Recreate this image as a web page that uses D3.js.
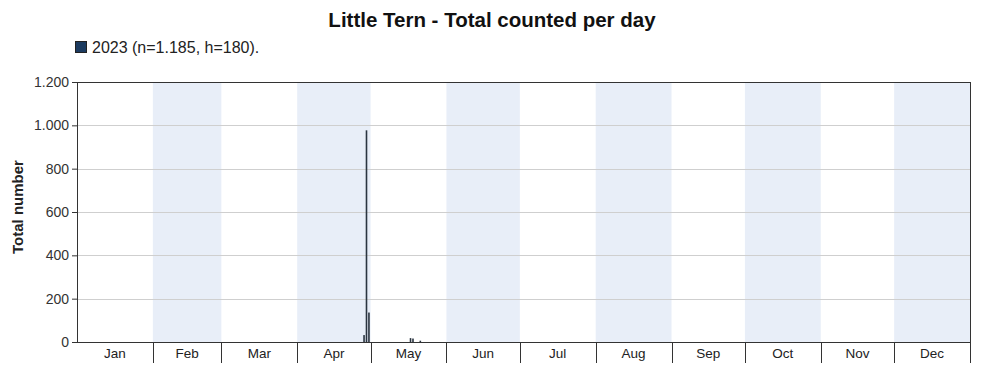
<!DOCTYPE html>
<html>
<head>
<meta charset="utf-8">
<script src="https://cdn.jsdelivr.net/npm/d3@7"></script>
<style>
  body { margin: 0; background: #fff; font-family: "Liberation Sans", Arial, sans-serif; }
  svg text { font-family: "Liberation Sans", Arial, sans-serif; }
</style>
</head>
<body>
<svg id="chart"></svg>
<script>
// Data
const months = ["Jan", "Feb", "Mar", "Apr", "May", "Jun", "Jul", "Aug", "Sep", "Oct", "Nov", "Dec"];
const days = ["2023-04-28", "2023-04-29", "2023-04-30", "2023-05-17", "2023-05-18", "2023-05-21"];
const counts = [32, 977, 136, 18, 16, 6];
const yTicks = [0, 200, 400, 600, 800, 1000, 1200];
const legendLabel = "2023 (n=1.185, h=180).";

const W = 985, H = 373;
const margin = {top: 82, right: 15, bottom: 31, left: 77},
      width = W - margin.left - margin.right,
      height = H - margin.top - margin.bottom;

const svg = d3.select("#chart").attr("width", W).attr("height", H);

const parse = d3.timeParse("%Y-%m-%d");
const data = days.map(function(d, i) { return {date: parse(d), count: counts[i]}; });

// Scales
const xScale = d3.scaleTime()
    .domain([new Date(2023, 0, 1), new Date(2024, 0, 1)])
    .range([0, width]);
const yScale = d3.scaleLinear()
    .domain([0, 1200])
    .range([height, 0]);

const fmt = d3.formatLocale({decimal: ",", thousands: ".", grouping: [3], currency: ["", ""]}).format(",d");

// Title
svg.append("text")
    .attr("x", 492).attr("y", 27)
    .attr("text-anchor", "middle")
    .style("font-size", "20.5px").style("font-weight", "bold").style("fill", "#111")
    .text("Little Tern - Total counted per day");

// Legend
svg.append("rect")
    .attr("x", 75.5).attr("y", 41.5).attr("width", 11).attr("height", 11)
    .attr("fill", "#1c3b60").attr("stroke", "#222");
svg.append("text")
    .attr("x", 92).attr("y", 53)
    .style("font-size", "16px").style("fill", "#222")
    .text(legendLabel);

const g = svg.append("g")
    .attr("transform", "translate(" + margin.left + "," + margin.top + ")");

// Month bands
const monthStarts = d3.range(12).map(function(m) { return new Date(2023, m, 1); });
const monthEnds = d3.range(12).map(function(m) { return new Date(2023, m + 1, 1); });
g.selectAll(".band")
    .data(d3.range(12).filter(function(m) { return m % 2 === 1; }))
    .enter().append("rect")
    .attr("x", function(m) { return xScale(monthStarts[m]); })
    .attr("y", 0)
    .attr("width", function(m) { return xScale(monthEnds[m]) - xScale(monthStarts[m]); })
    .attr("height", height)
    .attr("fill", "#e8eef8");

// Grid
g.selectAll(".grid")
    .data(yTicks.slice(1, -1))
    .enter().append("line")
    .attr("x1", 0).attr("x2", width)
    .attr("y1", function(d) { return Math.round(yScale(d)) + 0.5; })
    .attr("y2", function(d) { return Math.round(yScale(d)) + 0.5; })
    .attr("stroke", "#cfcfcf");

// Bars
g.selectAll(".bar")
    .data(data)
    .enter().append("rect")
    .attr("class", "bar")
    .attr("x", function(d) { return xScale(d.date); })
    .attr("y", function(d) { return yScale(d.count); })
    .attr("width", 1.6)
    .attr("height", function(d) { return height - yScale(d.count); })
    .attr("fill", "#2a3440");

// Frame
g.append("rect")
    .attr("x", 0.5).attr("y", 0.5)
    .attr("width", width).attr("height", height)
    .attr("fill", "none").attr("stroke", "#333");

// Y axis
const yAxis = g.append("g")
    .call(d3.axisLeft(yScale).tickValues(yTicks).tickSize(5).tickFormat(fmt));
yAxis.select(".domain").remove();
yAxis.selectAll("line").attr("stroke", "#333");
yAxis.selectAll("text").style("font-size", "14px").style("fill", "#333");

// X axis: boundary ticks and centered month labels
g.selectAll(".mtick")
    .data(monthEnds)
    .enter().append("line")
    .attr("x1", function(d) { return Math.round(xScale(d)) + 0.5; })
    .attr("x2", function(d) { return Math.round(xScale(d)) + 0.5; })
    .attr("y1", height).attr("y2", height + 21)
    .attr("stroke", "#333");
g.selectAll(".mlabel")
    .data(months)
    .enter().append("text")
    .attr("x", function(d, i) { return (xScale(monthStarts[i]) + xScale(monthEnds[i])) / 2; })
    .attr("y", height + 16)
    .attr("text-anchor", "middle")
    .style("font-size", "13.5px").style("fill", "#222")
    .text(function(d) { return d; });

// Y title
svg.append("text")
    .attr("transform", "translate(23,207) rotate(-90)")
    .attr("text-anchor", "middle")
    .style("font-size", "15px").style("font-weight", "bold").style("fill", "#222")
    .text("Total number");
</script>
</body>
</html>
